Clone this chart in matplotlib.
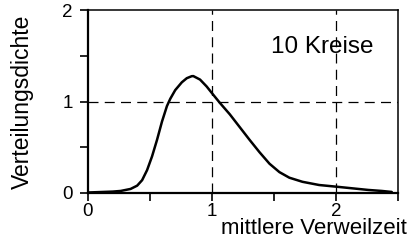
"""Verteilungsdichte der mittleren Verweilzeit, 10 Kreise."""

import matplotlib
matplotlib.use("Agg")
import matplotlib.pyplot as plt

plt.rcParams["font.family"] = ["Liberation Sans", "DejaVu Sans"]

# values
t_mean = [0.0, 0.10, 0.20, 0.264, 0.344, 0.397, 0.437, 0.477, 0.517, 0.557,
          0.597, 0.637, 0.664, 0.704, 0.757, 0.797, 0.837, 0.85, 0.904,
          0.957, 1.01, 1.064, 1.144, 1.224, 1.304, 1.384, 1.464, 1.544,
          1.624, 1.73, 1.864, 2.0, 2.13, 2.26, 2.37, 2.45]
density = [0.005, 0.01, 0.015, 0.022, 0.044, 0.08, 0.14, 0.25, 0.40, 0.58,
           0.78, 0.95, 1.03, 1.125, 1.21, 1.255, 1.277, 1.278, 1.24,
           1.165, 1.075, 0.985, 0.86, 0.72, 0.58, 0.445, 0.32, 0.228,
           0.167, 0.122, 0.087, 0.069, 0.051, 0.033, 0.022, 0.011]
grid_x = [1, 2]
grid_y = [1]
xticks = [0, 0.5, 1, 1.5, 2, 2.5]
yticks = [0, 0.5, 1, 1.5, 2]
xtick_labels = ["0", "", "1", "", "2", ""]
ytick_labels = ["0", "", "1", "", "2"]

fig = plt.figure(figsize=(4.09, 2.40), dpi=100)
ax = fig.add_axes([0.215, 0.196, 0.758, 0.762])

for gx in grid_x:
    ax.axvline(gx, color="black", lw=0.9, ls=(0, (8, 5)))
for gy in grid_y:
    ax.axhline(gy, color="black", lw=0.9, ls=(0, (8, 5)))

ax.plot(t_mean, density, color="black", lw=1.8,
        solid_capstyle="round", solid_joinstyle="round")

ax.set_xlim(0, 2.48)
ax.set_ylim(0, 2)
ax.set_xticks(xticks)
ax.set_xticklabels(xtick_labels)
ax.set_yticks(yticks)
ax.set_yticklabels(ytick_labels)
ax.tick_params(direction="out", length=6, width=1.2, labelsize=13.5)
ax.tick_params(axis="x", pad=1)
ax.tick_params(axis="y", pad=5)

for side in ["left", "bottom"]:
    ax.spines[side].set_linewidth(1.6)
for side in ["top", "right"]:
    ax.spines[side].set_linewidth(1.1)

ax.set_ylabel("Verteilungsdichte", fontsize=16.5)
ax.yaxis.set_label_coords(-0.174, 0.5)
fig.text(0.995, 0.047, "mittlere Verweilzeit", fontsize=16,
         ha="right", va="center")
ax.text(0.922, 0.80, "10 Kreise", transform=ax.transAxes, fontsize=17.5,
        ha="right", va="center")

fig.savefig("out.png", dpi=100)
